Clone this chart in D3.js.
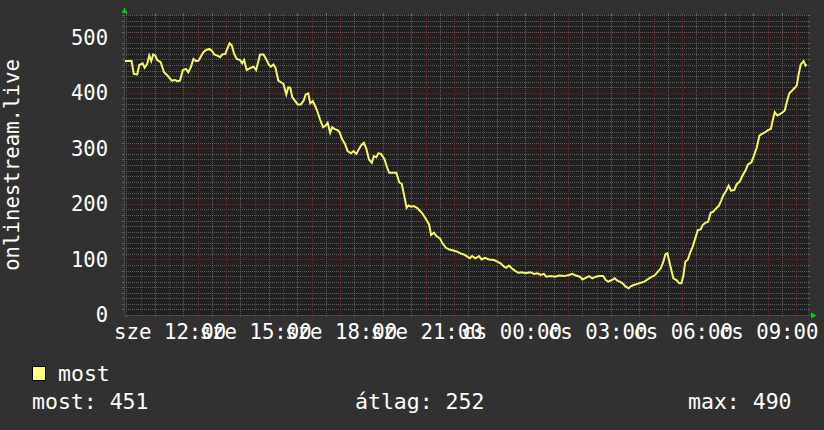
<!DOCTYPE html>
<html><head><meta charset="utf-8">
<script src="https://cdn.jsdelivr.net/npm/d3@7"></script>
<style>
html,body{margin:0;padding:0;background:#313131;}
svg{display:block;}
text{font-family:"DejaVu Sans Mono",monospace;fill:#ffffff;}
</style></head><body>
<svg id="c" width="824" height="430"></svg>
<script>
// time in hours since Wednesday (sze) 00:00
const hours = [10.45,10.68,10.76,10.88,10.95,11.07,11.14,11.23,11.30,11.37,11.44,11.51,11.58,11.70,11.82,11.94,12.09,12.21,12.29,12.38,
12.48,12.59,12.67,12.76,12.85,12.94,13.03,13.11,13.20,13.30,13.41,13.51,13.58,13.69,13.79,13.86,13.97,14.05,14.12,14.20,
14.28,14.37,14.49,14.56,14.63,14.72,14.87,14.96,15.05,15.12,15.19,15.31,15.40,15.49,15.57,15.66,15.73,15.83,15.92,16.01,
16.11,16.18,16.25,16.32,16.41,16.51,16.62,16.72,16.79,16.88,16.95,17.04,17.14,17.21,17.30,17.40,17.49,17.56,17.65,17.72,
17.79,17.91,17.98,18.06,18.17,18.26,18.38,18.47,18.57,18.66,18.73,18.83,18.92,19.01,19.11,19.18,19.27,19.34,19.43,19.55,
19.65,19.72,19.88,19.97,20.07,20.16,20.25,20.33,20.40,20.49,20.58,20.70,20.77,20.88,20.98,21.05,21.12,21.19,21.29,21.38,
21.50,21.59,21.71,21.83,21.97,22.11,22.22,22.34,22.46,22.55,
22.63,22.75,22.87,22.96,23.08,23.22,23.40,23.51,23.63,23.75,23.83,23.92,24.02,24.13,24.25,24.39,24.49,24.58,24.68,24.80,
24.92,25.04,25.15,25.23,25.39,25.54,25.68,25.86,26.03,26.15,26.27,26.41,26.50,26.62,26.73,26.85,26.97,27.09,27.23,27.32,
27.41,27.53,27.63,27.72,27.81,27.91,28.00,28.12,28.21,28.30,28.43,28.55,28.67,28.79,28.91,29.03,29.15,29.25,29.34,29.41,
29.48,29.55,29.62,29.69,29.80,29.90,29.97,30.04,30.11,30.20,30.27,30.37,30.46,30.55,30.65,30.72,30.81,30.91,31.00,31.09,
31.19,31.28,31.37,31.44,31.54,31.63,31.71,31.83,31.91,32.03,32.12,32.22,32.31,32.43,32.52,32.62,32.71,32.80,32.92,33.01,
33.11,33.18,33.25,33.34,33.44,33.53,33.60,33.67,33.76,33.86,33.95,34.02,34.09,34.16,34.26,34.33,34.37];
const values = [457,457,434,433,450,453,445,452,467,457,469,467,459,455,437,431,422,423,421,422,
441,443,437,446,461,457,458,465,473,477,479,475,469,467,464,469,470,481,489,485,
470,461,459,453,459,441,445,447,441,455,469,469,461,451,447,451,445,422,419,416,
397,410,409,392,386,379,379,386,397,399,381,385,374,365,351,338,341,346,328,338,
335,333,329,317,308,295,291,295,290,299,305,310,299,280,274,286,284,291,290,281,
265,256,256,256,239,236,214,193,197,195,196,193,189,183,175,169,163,144,148,142,
138,129,121,118,116,114,111,109,105,102,
106,102,106,100,103,100,99,96,93,87,85,89,84,80,76,77,75,76,77,74,
75,72,74,69,70,69,71,70,72,74,71,69,64,67,70,66,69,70,70,63,
60,63,66,62,60,57,52,48,52,54,56,58,60,64,68,71,78,84,96,109,
111,96,81,66,63,57,57,70,96,100,111,123,138,153,154,162,166,168,184,186,
192,196,206,215,223,233,224,225,235,241,251,260,271,275,287,302,323,326,329,333,
335,351,365,359,362,365,368,383,399,404,409,413,434,451,457,449,451];

const timeDomain = [10.415, 34.415];
const yDomain = [0, 540];
const yTicks = [0, 100, 200, 300, 400, 500];
const xLabelHours = [12, 15, 18, 21, 24, 27, 30, 33];
const xLabels = ["sze 12:00","sze 15:00","sze 18:00","sze 21:00","cs 00:00","cs 03:00","cs 06:00","cs 09:00"];
const yTitle = "onlinestream.live";
const seriesName = "most";
const statNames = ["most", "átlag", "max"];
const statValues = [451, 252, 490];

const svg = d3.select("#c");
const L = 124, R = 808, T = 15, B = 315;
const x = d3.scaleLinear().domain(timeDomain).range([L, R]);
const y = d3.scaleLinear().domain(yDomain).range([B, T]);
const px = v => Math.round(v) + 0.5;

svg.append("rect").attr("x", L).attr("y", T).attr("width", R - L).attr("height", B - T).attr("fill", "#212121");

const minorCol = "rgba(120,120,120,0.7)";
const majorCol = "rgba(135,45,45,0.8)";
const minorPath = d3.path(), majorPath = d3.path();

// horizontal grid every 10 units, major every 100 (dotted: 1px on, 1px off)
d3.range(1, Math.floor(yDomain[1] / 10) + 1).forEach(i => {
  const p = i % 10 === 0 ? majorPath : minorPath;
  const yy = px(y(i * 10));
  p.moveTo(L - 2, yy); p.lineTo(L, yy);
  for (let xx = L; xx < R; xx += 2) { p.moveTo(xx, yy); p.lineTo(xx + 1, yy); }
  p.moveTo(R, yy); p.lineTo(R + 2, yy);
});
// vertical grid every 30 min, major every hour
d3.range(Math.ceil(timeDomain[0] * 2), Math.floor(timeDomain[1] * 2) + 1).forEach(k => {
  const p = k % 2 === 0 ? majorPath : minorPath;
  const xx = px(x(k / 2));
  p.moveTo(xx, T - 2); p.lineTo(xx, T);
  for (let yy = T; yy < B; yy += 2) { p.moveTo(xx, yy); p.lineTo(xx, yy + 1); }
  p.moveTo(xx, B); p.lineTo(xx, B + 2);
});
svg.append("path").attr("d", minorPath.toString()).attr("stroke", minorCol).attr("fill", "none").attr("stroke-width", 1);
svg.append("path").attr("d", majorPath.toString()).attr("stroke", majorCol).attr("fill", "none").attr("stroke-width", 1);

// axes
svg.append("line").attr("x1", px(L)).attr("x2", px(L)).attr("y1", T - 4).attr("y2", B).attr("stroke", "#4a4a4a");
svg.append("line").attr("x1", L).attr("x2", R + 4).attr("y1", px(B)).attr("y2", px(B)).attr("stroke", "#4a4a4a");

// arrows
const up = d3.path(); up.moveTo(px(L), 7.5); up.lineTo(px(L) + 3, 13); up.lineTo(px(L) - 3, 13); up.closePath();
svg.append("path").attr("d", up.toString()).attr("fill", "#00d000");
const rt = d3.path(); rt.moveTo(816.5, px(B)); rt.lineTo(811, px(B) - 3); rt.lineTo(811, px(B) + 3); rt.closePath();
svg.append("path").attr("d", rt.toString()).attr("fill", "#00d000");

// line
const data = hours.map((h, i) => ({h, v: values[i]}));
svg.append("path").datum(data)
  .attr("d", d3.line().x(d => x(d.h)).y(d => y(d.v)))
  .attr("fill", "none").attr("stroke", "#f6f66a").attr("stroke-width", 2).attr("stroke-linejoin", "miter");

// y tick labels
svg.append("g").selectAll("text").data(yTicks).join("text")
  .attr("x", 108).attr("y", d => y(d)).attr("dy", "0.36em")
  .attr("text-anchor", "end").attr("font-size", "20.5px").text(d => d);

// x tick labels
svg.append("g").selectAll("text").data(xLabelHours).join("text")
  .attr("x", d => x(d) + 1).attr("y", 339)
  .attr("text-anchor", "middle").attr("font-size", "20.7px").text((d, i) => xLabels[i]);

// y title
svg.append("text").attr("transform", "translate(19," + ((T + B) / 2) + ") rotate(-90)")
  .attr("text-anchor", "middle").attr("font-size", "20.7px").text(yTitle);

// legend
svg.append("rect").attr("x", 32.5).attr("y", 366.5).attr("width", 13).attr("height", 14)
  .attr("fill", "#ffff80").attr("stroke", "#000").attr("stroke-width", 1);
svg.append("text").attr("x", 58).attr("y", 381).attr("font-size", "21.5px").text(seriesName);
const statX = [32, 355, 688];
svg.append("g").selectAll("text").data(statNames).join("text")
  .attr("x", (d, i) => statX[i]).attr("y", 409).attr("font-size", "21.5px")
  .text((d, i) => d + ": " + statValues[i]);
</script>
</body></html>
